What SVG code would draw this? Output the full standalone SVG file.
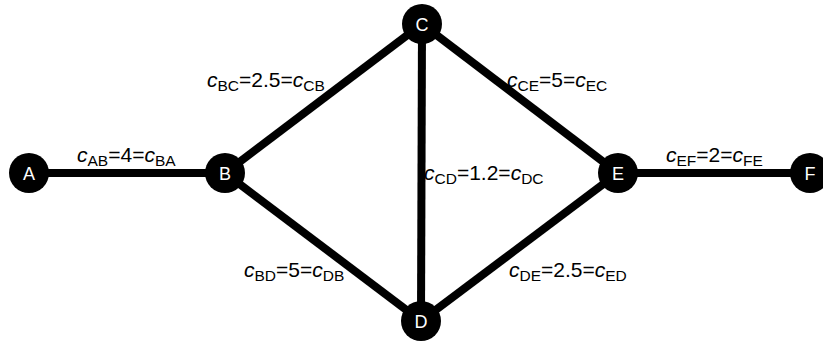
<svg xmlns="http://www.w3.org/2000/svg" width="823" height="344" viewBox="0 0 823 344">
<style>
.edge{stroke:#000;stroke-width:8;fill:none}
.node circle{fill:#000}
.node text{fill:#fff;font-family:"Liberation Sans",Arial,sans-serif;font-size:18px;text-anchor:middle}
.lbl{font-family:"Liberation Sans",Arial,sans-serif;font-size:21px;fill:#000}
.i{font-style:italic}
.s{font-size:15.5px}
</style>
<rect width="823" height="344" fill="#fff"/>
<g id="edges">
<line class="edge" x1="29" y1="173" x2="225" y2="173"/>
<line class="edge" x1="225" y1="173" x2="422" y2="24"/>
<line class="edge" x1="225" y1="173" x2="421" y2="321"/>
<line class="edge" x1="422" y1="24" x2="421" y2="321"/>
<line class="edge" x1="422" y1="24" x2="618" y2="173"/>
<line class="edge" x1="421" y1="321" x2="618" y2="173"/>
<line class="edge" x1="618" y1="173" x2="810" y2="173"/>
</g>
<g id="labels">
<text class="lbl" x="77" y="162"><tspan class="i">c</tspan><tspan class="s" dy="4">AB</tspan><tspan dy="-4">=4=</tspan><tspan class="i">c</tspan><tspan class="s" dy="4">BA</tspan></text>
<text class="lbl" x="207" y="87"><tspan class="i">c</tspan><tspan class="s" dy="4">BC</tspan><tspan dy="-4">=2.5=</tspan><tspan class="i">c</tspan><tspan class="s" dy="4">CB</tspan></text>
<text class="lbl" x="507" y="87"><tspan class="i">c</tspan><tspan class="s" dy="4">CE</tspan><tspan dy="-4">=5=</tspan><tspan class="i">c</tspan><tspan class="s" dy="4">EC</tspan></text>
<text class="lbl" x="424" y="180"><tspan class="i">c</tspan><tspan class="s" dy="4">CD</tspan><tspan dy="-4">=1.2=</tspan><tspan class="i">c</tspan><tspan class="s" dy="4">DC</tspan></text>
<text class="lbl" x="244" y="277"><tspan class="i">c</tspan><tspan class="s" dy="4">BD</tspan><tspan dy="-4">=5=</tspan><tspan class="i">c</tspan><tspan class="s" dy="4">DB</tspan></text>
<text class="lbl" x="509" y="277"><tspan class="i">c</tspan><tspan class="s" dy="4">DE</tspan><tspan dy="-4">=2.5=</tspan><tspan class="i">c</tspan><tspan class="s" dy="4">ED</tspan></text>
<text class="lbl" x="666" y="162"><tspan class="i">c</tspan><tspan class="s" dy="4">EF</tspan><tspan dy="-4">=2=</tspan><tspan class="i">c</tspan><tspan class="s" dy="4">FE</tspan></text>
</g>
<g id="node-A" class="node"><circle cx="29" cy="173" r="20"/><text x="29" y="180">A</text></g>
<g id="node-B" class="node"><circle cx="225" cy="173" r="20"/><text x="225" y="180">B</text></g>
<g id="node-C" class="node"><circle cx="422" cy="24" r="20"/><text x="422" y="31">C</text></g>
<g id="node-D" class="node"><circle cx="421" cy="321" r="20"/><text x="421" y="328">D</text></g>
<g id="node-E" class="node"><circle cx="618" cy="173" r="20"/><text x="618" y="180">E</text></g>
<g id="node-F" class="node"><circle cx="810" cy="173" r="20"/><text x="810" y="180">F</text></g>
</svg>
